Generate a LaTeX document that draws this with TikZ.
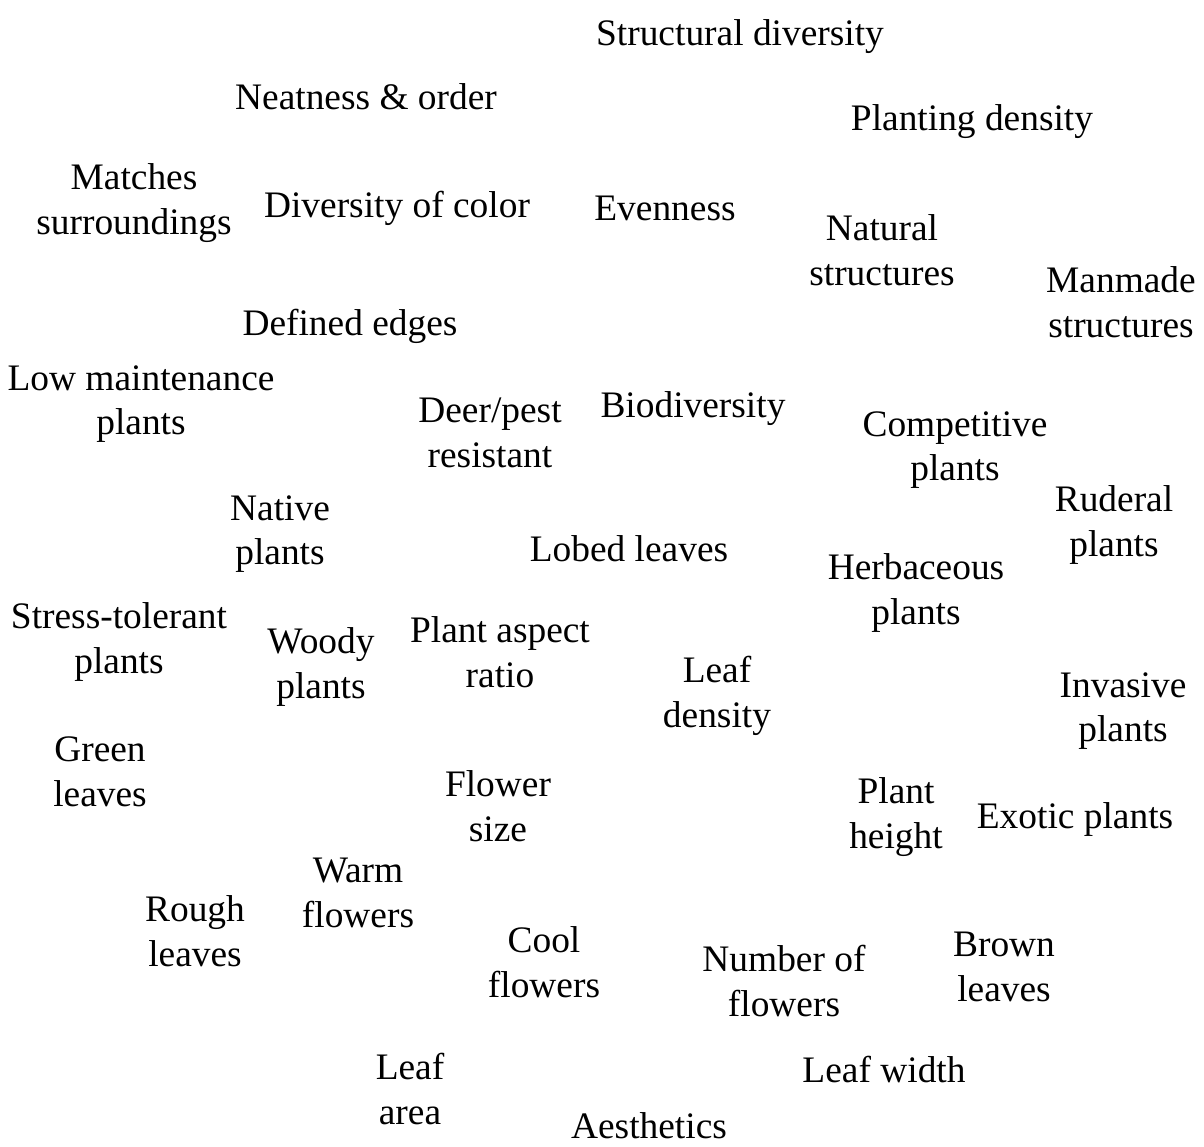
\documentclass[tikz,border=0pt]{standalone}
\usepackage{fontspec}
\setmainfont{Liberation Serif}
\begin{document}
\begin{tikzpicture}[x=1pt,y=-1pt,
  term/.style={inner sep=0pt,align=center,font=\fontsize{37.4}{44.5}\selectfont}]
\useasboundingbox (0,0) rectangle (1204,1146);
\node[term] (structdiv) at (740,37) {Structural diversity};
\node[term] (neat) at (366,97) {Neatness \& order};
\node[term] (plantdens) at (972,122) {Planting density};
\node[term] (matches) at (134,203) {Matches\\surroundings};
\node[term] (colordiv) at (397,208) {Diversity of color};
\node[term] (even) at (665,208) {Evenness};
\node[term] (natstruct) at (882,250) {Natural\\structures};
\node[term] (manstruct) at (1121,302) {Manmade\\structures};
\node[term] (edges) at (350,326) {Defined edges};
\node[term] (lowmaint) at (141,404) {Low maintenance\\plants};
\node[term] (deer) at (490,433) {Deer/pest\\resistant};
\node[term] (biodiv) at (693,409) {Biodiversity};
\node[term] (compet) at (955,450) {Competitive\\plants};
\node[term] (ruderal) at (1114,525) {Ruderal\\plants};
\node[term] (native) at (280,534) {Native\\plants};
\node[term] (lobed) at (629,549) {Lobed leaves};
\node[term] (herb) at (916,593) {Herbaceous\\plants};
\node[term] (stress) at (119,642) {Stress-tolerant\\plants};
\node[term] (woody) at (321,667) {Woody\\plants};
\node[term] (aspect) at (500,652) {Plant aspect\\ratio};
\node[term] (leafdens) at (717,696) {Leaf\\density};
\node[term] (invasive) at (1123,711) {Invasive\\plants};
\node[term] (green) at (100,772) {Green\\leaves};
\node[term] (flsize) at (498,806) {Flower\\size};
\node[term] (height) at (896,817) {Plant\\height};
\node[term] (exotic) at (1075,819) {Exotic plants};
\node[term] (warm) at (358,893) {Warm\\flowers};
\node[term] (rough) at (195,931) {Rough\\leaves};
\node[term] (cool) at (544,962) {Cool\\flowers};
\node[term] (numfl) at (784,981) {Number of\\flowers};
\node[term] (brown) at (1004,967) {Brown\\leaves};
\node[term] (leafw) at (884,1069) {Leaf width};
\node[term] (leafarea) at (410,1089) {Leaf\\area};
\node[term] (aesth) at (649,1126) {Aesthetics};
\end{tikzpicture}
\end{document}
